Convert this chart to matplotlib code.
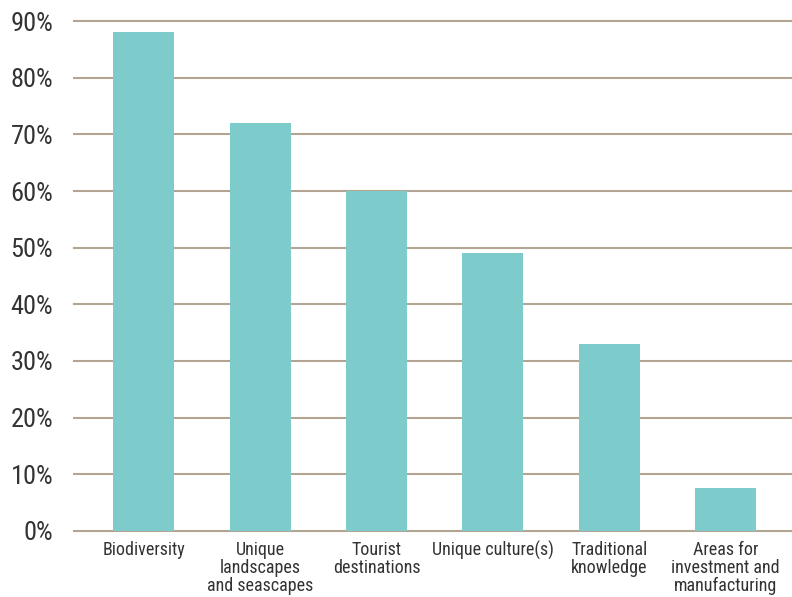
import matplotlib.pyplot as plt
from matplotlib.ticker import FuncFormatter

categories = [
    "Biodiversity",
    "Unique\nlandscapes\nand seascapes",
    "Tourist\ndestinations",
    "Unique culture(s)",
    "Traditional\nknowledge",
    "Areas for\ninvestment and\nmanufacturing",
]
shares = [88, 72, 60, 49, 33, 7.6]
y_ticks = [0, 10, 20, 30, 40, 50, 60, 70, 80, 90]

plt.rcParams['font.family'] = ['Roboto Condensed', 'Archivo Narrow', 'Liberation Sans']

fig = plt.figure(figsize=(7.92, 5.97), dpi=100)
ax = fig.add_axes([0.0934, 0.1106, 0.9066, 0.8542])

x = range(len(categories))
ax.bar(x, shares, width=0.525, color="#7ECBCB", zorder=3)

ax.set_ylim(0, 90)
ax.set_xlim(-0.6, 5.57)
ax.set_yticks(y_ticks)
ax.yaxis.set_major_formatter(FuncFormatter(lambda v, p: f"{v:.0f}%"))
ax.grid(axis="y", color="#B3A494", linewidth=1.5, zorder=0)
for line in ax.get_ygridlines():
    line.set_clip_on(False)

ax.set_xticks(list(x))
ax.set_xticklabels(categories, fontsize=13, color="#333333", linespacing=1.0,
                   va="top")
ax.tick_params(axis="x", length=0, pad=7)
ax.tick_params(axis="y", length=0, pad=15, labelsize=19, labelcolor="#333333")

for s in ax.spines.values():
    s.set_visible(False)

plt.savefig("out.png", dpi=100)
